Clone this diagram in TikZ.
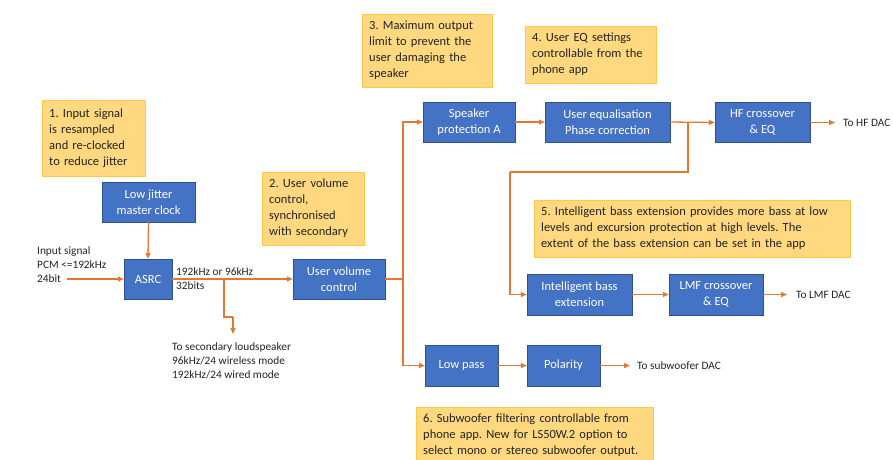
\documentclass[tikz,border=0pt]{standalone}
\usepackage{fontspec}
\setmainfont{Carlito}
\usetikzlibrary{arrows.meta}
\frenchspacing

\definecolor{boxblue}{RGB}{68,114,196}
\definecolor{boxedge}{RGB}{47,82,143}
\definecolor{wireorange}{RGB}{228,120,48}
\definecolor{notefill}{RGB}{255,216,128}
\definecolor{noteedge}{RGB}{255,200,70}
\definecolor{labelgrey}{RGB}{35,35,35}

\tikzset{
  block/.style={draw=boxedge, fill=boxblue, text=white, minimum height=40pt,
    align=center, inner sep=2pt, font=\fontsize{12.5}{16}\selectfont},
  note/.style={draw=noteedge, fill=notefill, anchor=north west, align=left,
    inner sep=7pt, text=labelgrey, font=\fontsize{12.5}{16}\selectfont},
  lbl/.style={align=left, text=labelgrey, inner sep=2pt, font=\fontsize{11.3}{14}\selectfont},
  wire/.style={draw=wireorange, line width=1.3pt},
  feed/.style={wire, -{Triangle[length=6pt,width=5pt]}}
}

\begin{document}
\begin{tikzpicture}[x=1pt, y=-1pt]
  \useasboundingbox (0,0) rectangle (893,459);

  % Notes
  \node[note, text width=89pt, minimum height=76pt] (note1) at (42,100)
    {1. Input signal\\is resampled\\and re-clocked\\to reduce jitter};
  \node[note, text width=88pt, minimum height=72pt] (note2) at (262,172)
    {2. User volume\\control,\\synchronised\\with secondary};
  \node[note, text width=116pt, minimum height=72pt] (note3) at (362,14)
    {3. Maximum output\\limit to prevent the\\user damaging the\\speaker};
  \node[note, text width=117pt, minimum height=56pt] (note4) at (525,26)
    {4. User EQ settings\\controllable from the\\phone app};
  \node[note, text width=302pt, minimum height=56pt] (note5) at (534,200)
    {5. Intelligent bass extension provides more bass at low\\levels and excursion protection at high levels. The\\extent of the bass extension can be set in the app};
  \node[note, text width=223pt, minimum height=52pt] (note6) at (416,407)
    {6. Subwoofer filtering controllable from\\phone app. New for LS50W.2 option to\\select mono or stereo subwoofer output.};

  % Blocks
  \node[block, minimum width=93pt] (clock) at (148.5,202) {Low jitter\\master clock};
  \node[block, minimum width=48pt] (asrc) at (148,279) {ASRC};
  \node[block, minimum width=92pt] (vol) at (339,279) {User volume\\control};
  \node[block, minimum width=92pt] (prot) at (469,122) {Speaker\\protection A};
  \node[block, minimum width=125pt] (ueq) at (607.5,122) {User equalisation\\Phase correction};
  \node[block, minimum width=95pt] (hf) at (762.5,122.5) {HF crossover\\\& EQ};
  \node[block, minimum width=105pt, minimum height=41pt] (bass) at (579.5,294.5) {Intelligent bass\\extension};
  \node[block, minimum width=94pt, minimum height=41pt] (lmf) at (716,294.5) {LMF crossover\\\& EQ};
  \node[block, minimum width=73pt, minimum height=41pt] (lp) at (461.5,365.5) {Low pass};
  \node[block, minimum width=73pt, minimum height=41pt] (pol) at (563.5,365.5) {Polarity};

  % Plain labels
  \node[lbl, anchor=west] (insig) at (35,265) {Input signal\\PCM <=192kHz\\24bit};
  \node[lbl, anchor=north west] (rate) at (174,265) {192kHz or 96kHz\\32bits};
  \node[lbl, anchor=north west] (second) at (170,340)
    {To secondary loudspeaker\\96kHz/24 wireless mode\\192kHz/24 wired mode};
  \node[lbl, anchor=west] (hfdac) at (841,122.5) {To HF DAC};
  \node[lbl, anchor=west] (lmfdac) at (794,294.5) {To LMF DAC};
  \node[lbl, anchor=west] (subdac) at (635,365.5) {To subwoofer DAC};

  % Junctions
  \coordinate (inend) at (67,279);
  \coordinate (tap) at (224,279);
  \coordinate (jog) at (233,317);
  \coordinate (secend) at (233,334);
  \coordinate (split) at (403,279);
  \coordinate (tap2) at (688,122);
  \coordinate (loop) at (510,172);

  % Input side
  \draw[feed] (inend) -- (asrc.west);
  \draw[feed] (clock.south) -- (asrc.north);
  \draw[feed] (asrc.east) -- (vol.west);
  \draw[wire] (tap) |- (jog);
  \draw[feed] (jog) -- (secend);

  % Main split
  \draw[wire] (vol.east) -- (split);
  \draw[feed] (split) |- (prot.west);
  \draw[feed] (split) |- (lp.west);

  % High frequency path
  \draw[feed] (prot.east) -- (ueq.west);
  \draw[feed] (ueq.east) -- (hf.west);
  \draw[feed] (hf.east) -- ([xshift=-6pt]hfdac.west);

  % Bass path
  \draw[wire] (tap2) |- (loop);
  \draw[feed] (loop) |- (bass.west);
  \draw[feed] (bass.east) -- (lmf.west);
  \draw[feed] (lmf.east) -- ([xshift=-7pt]lmfdac.west);

  % Subwoofer path
  \draw[feed] (lp.east) -- (pol.west);
  \draw[feed] (pol.east) -- ([xshift=-5pt]subdac.west);
\end{tikzpicture}
\end{document}
